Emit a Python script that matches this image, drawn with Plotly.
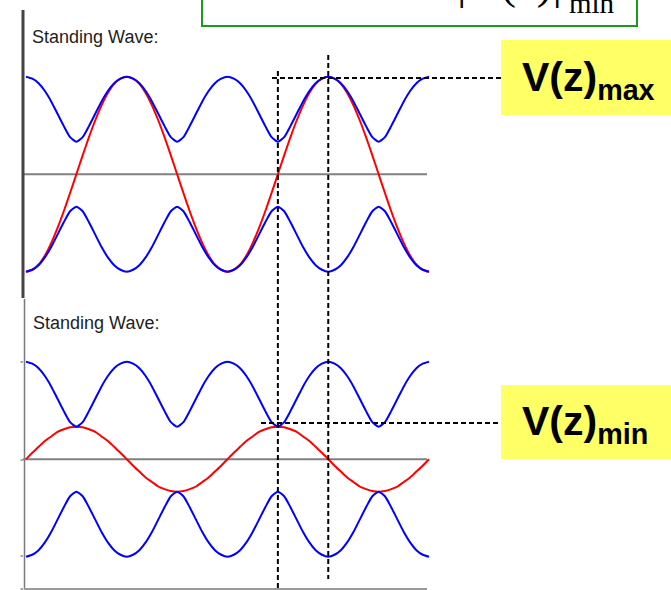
import plotly.graph_objects as go

W, H = 671, 590

# position along the line, in wavelengths (sampled every 1/32 of a wavelength)
z_lambda = [i / 32 for i in range(65)]

# |V(z)| standing-wave envelope (Vmax = 1.5, Vmin = 0.5)
envelope = [
    1.50, 1.47, 1.40, 1.28, 1.12, 0.93, 0.74, 0.57, 0.50, 0.57, 0.74, 0.93, 1.12, 1.28, 1.40, 1.47,
    1.50, 1.47, 1.40, 1.28, 1.12, 0.93, 0.74, 0.57, 0.50, 0.57, 0.74, 0.93, 1.12, 1.28, 1.40, 1.47,
    1.50, 1.47, 1.40, 1.28, 1.12, 0.93, 0.74, 0.57, 0.50, 0.57, 0.74, 0.93, 1.12, 1.28, 1.40, 1.47,
    1.50, 1.47, 1.40, 1.28, 1.12, 0.93, 0.74, 0.57, 0.50, 0.57, 0.74, 0.93, 1.12, 1.28, 1.40, 1.47,
    1.50,
]

# instantaneous voltage, snapshot that reaches V(z)max (top panel)
v_snap_max = [
    -1.50, -1.47, -1.39, -1.25, -1.06, -0.83, -0.57, -0.29, 0.00, 0.29, 0.57, 0.83, 1.06, 1.25, 1.39, 1.47,
    1.50, 1.47, 1.39, 1.25, 1.06, 0.83, 0.57, 0.29, 0.00, -0.29, -0.57, -0.83, -1.06, -1.25, -1.39, -1.47,
    -1.50, -1.47, -1.39, -1.25, -1.06, -0.83, -0.57, -0.29, 0.00, 0.29, 0.57, 0.83, 1.06, 1.25, 1.39, 1.47,
    1.50, 1.47, 1.39, 1.25, 1.06, 0.83, 0.57, 0.29, 0.00, -0.29, -0.57, -0.83, -1.06, -1.25, -1.39, -1.47,
    -1.50,
]

# instantaneous voltage, snapshot that reaches V(z)min (bottom panel)
v_snap_min = [
    0.00, 0.10, 0.19, 0.28, 0.35, 0.42, 0.46, 0.49, 0.50, 0.49, 0.46, 0.42, 0.35, 0.28, 0.19, 0.10,
    0.00, -0.10, -0.19, -0.28, -0.35, -0.42, -0.46, -0.49, -0.50, -0.49, -0.46, -0.42, -0.35, -0.28, -0.19, -0.10,
    0.00, 0.10, 0.19, 0.28, 0.35, 0.42, 0.46, 0.49, 0.50, 0.49, 0.46, 0.42, 0.35, 0.28, 0.19, 0.10,
    0.00, -0.10, -0.19, -0.28, -0.35, -0.42, -0.46, -0.49, -0.50, -0.49, -0.46, -0.42, -0.35, -0.28, -0.19, -0.10,
    0.00,
]

z_at_max = 1.5
z_at_min = 1.25
panel_title = "Standing Wave:"


def px(x):
    return x / W


def py(y):
    return 1 - y / H


fig = go.Figure()

panels = [("y", v_snap_max), ("y2", v_snap_min)]
for yax, snap in panels:
    fig.add_trace(go.Scatter(x=z_lambda, y=snap, yaxis=yax, mode="lines",
                             line=dict(color="#ff0000", width=2, shape="spline", smoothing=0.6),
                             hoverinfo="skip", showlegend=False))
    fig.add_trace(go.Scatter(x=z_lambda, y=envelope, yaxis=yax, mode="lines",
                             line=dict(color="#0000ff", width=2, shape="spline", smoothing=0.6),
                             hoverinfo="skip", showlegend=False))
    fig.add_trace(go.Scatter(x=z_lambda, y=[-v for v in envelope], yaxis=yax, mode="lines",
                             line=dict(color="#0000ff", width=2, shape="spline", smoothing=0.6),
                             hoverinfo="skip", showlegend=False))

dash = "5px,3px"
shapes = []
# zero lines
for yref in ("y", "y2"):
    shapes.append(dict(type="line", xref="paper", yref=yref, x0=px(23), x1=px(427), y0=0, y1=0,
                       line=dict(color="#808080", width=2), layer="below"))
# panel frames
shapes += [
    dict(type="line", xref="paper", yref="paper", x0=px(23), x1=px(23), y0=py(10), y1=py(298),
         line=dict(color="#444444", width=3)),
    dict(type="line", xref="paper", yref="paper", x0=px(24.5), x1=px(24.5), y0=py(299), y1=py(592),
         line=dict(color="#7a7a7a", width=1.5)),
    dict(type="line", xref="paper", yref="paper", x0=px(24), x1=px(427), y0=py(589), y1=py(589),
         line=dict(color="#9a9a9a", width=2)),
]
for ty in (362, 460, 556, 589):
    shapes.append(dict(type="line", xref="paper", yref="paper", x0=px(20.5), x1=px(23), y0=py(ty), y1=py(ty),
                       line=dict(color="#555555", width=1)))
# dashed markers
shapes += [
    dict(type="line", xref="x", yref="paper", x0=z_at_min, x1=z_at_min, y0=py(71), y1=py(592),
         line=dict(color="black", width=2, dash=dash)),
    dict(type="line", xref="x", yref="paper", x0=z_at_max, x1=z_at_max, y0=py(55), y1=py(579),
         line=dict(color="black", width=2, dash=dash)),
    dict(type="line", xref="paper", yref="paper", x0=px(272), x1=px(506), y0=py(78), y1=py(78),
         line=dict(color="black", width=2, dash=dash)),
    dict(type="line", xref="paper", yref="paper", x0=px(261), x1=px(499), y0=py(423), y1=py(423),
         line=dict(color="black", width=2, dash=dash)),
]
# callout boxes
shapes += [
    dict(type="rect", xref="paper", yref="paper", x0=px(501), x1=px(672), y0=py(115), y1=py(40),
         fillcolor="#ffff66", line=dict(width=0)),
    dict(type="rect", xref="paper", yref="paper", x0=px(501), x1=px(672), y0=py(459), y1=py(385),
         fillcolor="#ffff66", line=dict(width=0)),
    dict(type="rect", xref="paper", yref="paper", x0=px(202), x1=px(637), y0=py(26), y1=py(-30),
         fillcolor="white", line=dict(color="#1a9c1a", width=2)),
]

sans = "Liberation Sans, Arial, sans-serif"
serif = "Liberation Serif, Times New Roman, serif"
annotations = [
    dict(text=panel_title, x=px(30), y=py(37), xanchor="left", yanchor="middle",
         font=dict(family=sans, size=18, color="#1e1e1e")),
    dict(text=panel_title, x=px(31), y=py(323), xanchor="left", yanchor="middle",
         font=dict(family=sans, size=18, color="#1e1e1e")),
    dict(text="<b>V(z)<sub>max</sub></b>", x=px(520), y=py(80), xanchor="left", yanchor="middle",
         font=dict(family=sans, size=41, color="black")),
    dict(text="<b>V(z)<sub>min</sub></b>", x=px(520), y=py(424), xanchor="left", yanchor="middle",
         font=dict(family=sans, size=41, color="black")),
    # bottom of the cut-off VSWR formula in the boxed header
    dict(text="|V(z)|", x=px(455), y=py(10), xanchor="left", yanchor="bottom",
         font=dict(family=serif, size=47, color="black")),
    dict(text="min", x=px(567), y=py(21), xanchor="left", yanchor="bottom",
         font=dict(family=serif, size=29, color="black")),
]
for a in annotations:
    a.update(xref="paper", yref="paper", showarrow=False)

fig.update_layout(
    width=W, height=H, autosize=False,
    margin=dict(l=0, r=0, t=0, b=0),
    paper_bgcolor="white", plot_bgcolor="white",
    xaxis=dict(range=[-26 / 201.5, 645 / 201.5], visible=False, fixedrange=True),
    yaxis=dict(range=[-6.397, 2.68], visible=False, fixedrange=True),
    yaxis2=dict(range=[-2.0123, 7.0646], overlaying="y", visible=False, fixedrange=True),
    shapes=shapes,
    annotations=annotations,
)

fig.write_html("out.html", config={"displayModeBar": False},
               post_script="document.body.style.margin='0';")
